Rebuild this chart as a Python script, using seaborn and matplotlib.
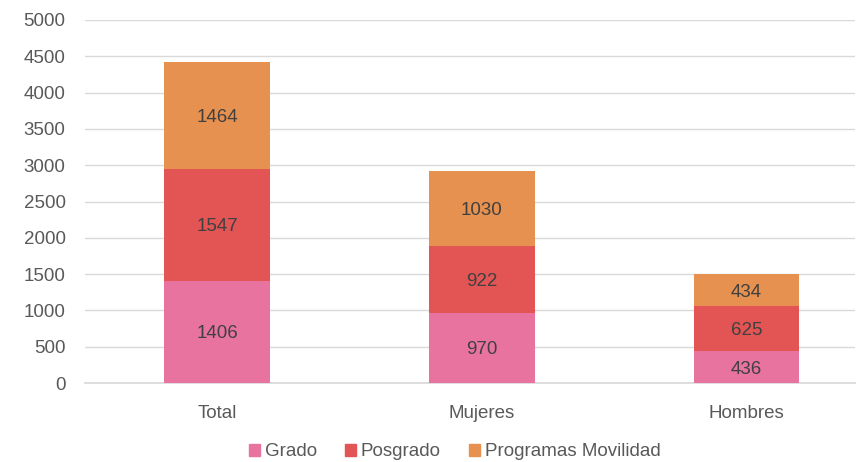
import pandas as pd
import numpy as np
import matplotlib.pyplot as plt
import seaborn as sns

categories = ['Total', 'Mujeres', 'Hombres']
grado = [1406, 970, 436]
posgrado = [1547, 922, 625]
movilidad = [1464, 1030, 434]
series_names = ['Grado', 'Posgrado', 'Programas Movilidad']
colors = ['#E8739F', '#E35454', '#E6914F']

sns.set_theme(style='white')
plt.rcParams['font.family'] = ['Liberation Sans', 'DejaVu Sans']
text_color = '#595959'

df = pd.DataFrame({'categoria': categories, 'Grado': grado,
                   'Posgrado': posgrado, 'Programas Movilidad': movilidad})
# cumulative heights, drawn from back to front
df['c1'] = df['Grado']
df['c2'] = df['c1'] + df['Posgrado']
df['c3'] = df['c2'] + df['Programas Movilidad']

fig = plt.figure(figsize=(8.61, 4.62), dpi=100)
ax = fig.add_axes([85 / 861, 79 / 462, 770 / 861, 363 / 462])

for col, color in zip(['c3', 'c2', 'c1'], colors[::-1]):
    sns.barplot(data=df, x='categoria', y=col, color=color, width=0.4,
                ax=ax, zorder=3, edgecolor='none', saturation=1)

# value labels
for i in range(len(categories)):
    bottoms = [0, grado[i], grado[i] + posgrado[i]]
    vals = [grado[i], posgrado[i], movilidad[i]]
    for b, v in zip(bottoms, vals):
        ax.text(i, b + v / 2, str(v), ha='center', va='center_baseline',
                fontsize=13.5, color='#404040', zorder=4)

ax.set_ylim(0, 5000)
ax.set_xlim(-0.5, 2.41)
ax.set_yticks(range(0, 5001, 500))
ax.yaxis.grid(True, color='#D9D9D9', linewidth=1, zorder=0)
ax.set_xlabel('')
ax.set_ylabel('')
for s in ['top', 'right', 'left']:
    ax.spines[s].set_visible(False)
ax.spines['bottom'].set_color('#D9D9D9')
ax.tick_params(axis='y', length=0, labelsize=13.5, labelcolor=text_color, pad=14)
ax.tick_params(axis='x', length=0, labelsize=13.5, labelcolor=text_color, pad=16)

handles = [plt.Rectangle((0, 0), 1, 1, color=c) for c in colors]
fig.legend(handles, series_names, loc='center', bbox_to_anchor=(0.528, 0.022),
           ncol=3, frameon=False, fontsize=13.5, handlelength=0.6, handleheight=0.6,
           handletextpad=0.25, columnspacing=1.5, labelcolor=text_color)

fig.savefig('out.png', dpi=100)
